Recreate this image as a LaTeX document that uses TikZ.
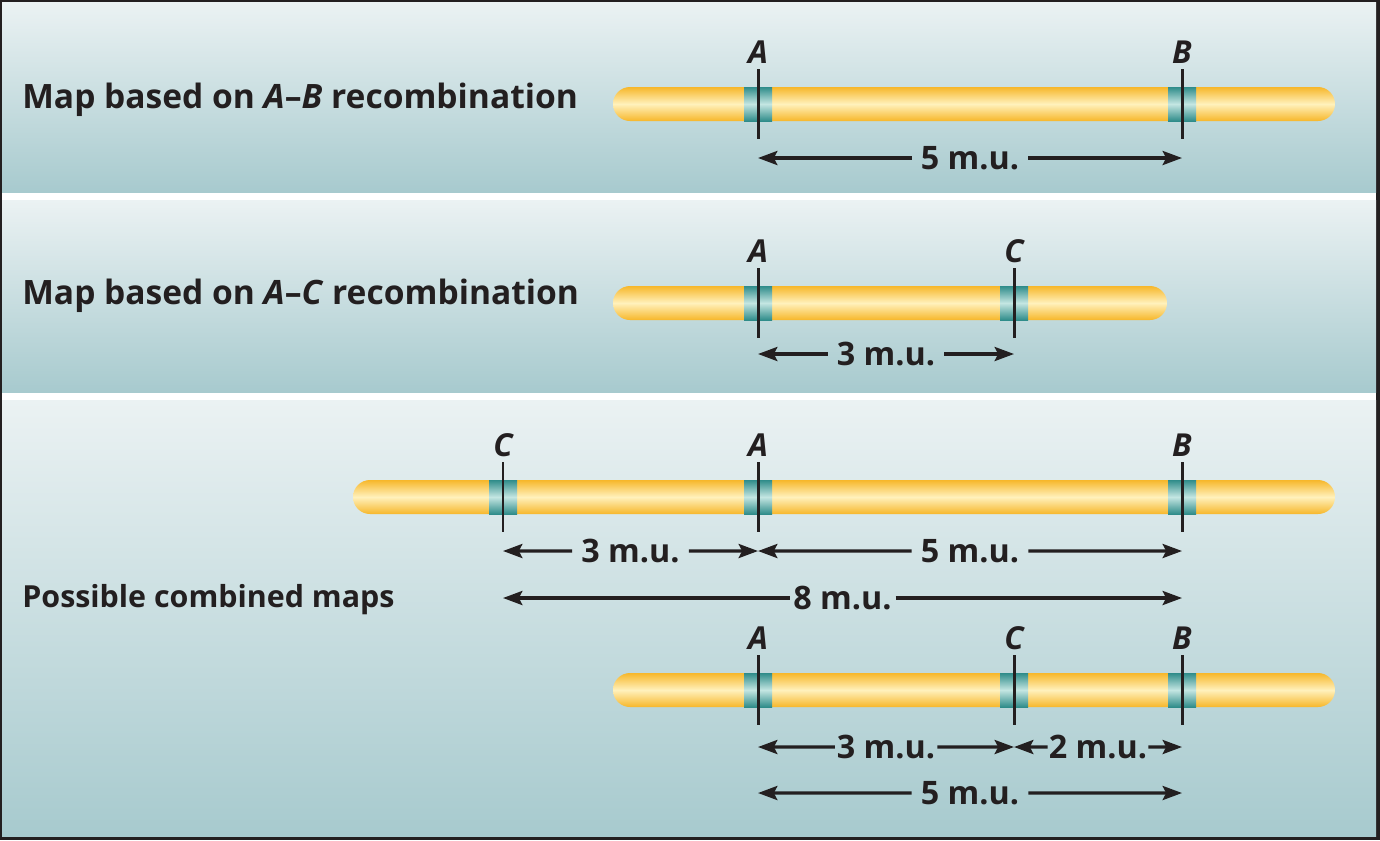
\documentclass[tikz,border=0pt]{standalone}
\usepackage{fontspec}
\setmainfont{Open Sans}
\usetikzlibrary{arrows.meta, calc}
\definecolor{ink}{HTML}{231F20}
\definecolor{panelTop}{HTML}{EBF2F3}
\definecolor{panelBot}{HTML}{A7CACE}
\definecolor{chromEdge}{HTML}{F7B72A}
\definecolor{chromMid}{HTML}{FFF1BC}
\definecolor{bandEdge}{HTML}{2F8C8A}
\definecolor{bandMid}{HTML}{C4E6E2}
\tikzstyle{panel} = [top color=panelTop, bottom color=panelBot]
\tikzstyle{chrom} = [rounded corners=0.34cm, top color=chromEdge, bottom color=chromEdge, middle color=chromMid]
\tikzstyle{band} = [top color=bandEdge, bottom color=bandEdge, middle color=bandMid]
\tikzstyle{tick} = [draw=ink, line width=1.7pt]
\tikzstyle{title} = [text=ink, inner sep=0pt, anchor=base west, font=\fontsize{19.1}{23}\selectfont\bfseries]
\tikzstyle{locus} = [text=ink, inner sep=0pt, anchor=base, font=\fontsize{18}{21}\selectfont\bfseries\itshape]
\tikzstyle{dist} = [text=ink, inner ysep=0pt, inner xsep=5pt, font=\fontsize{18.4}{22}\selectfont\bfseries]
\tikzstyle{dim} = [draw=ink, line width=1.8pt, -{Stealth[length=11pt, width=8pt, inset=2pt]}]

\begin{document}
\begin{tikzpicture}[x=0.02cm, y=-0.02cm]
    \useasboundingbox (0,0) rectangle (1380,840);
    \fill[ink] (0,0) rectangle (1380,840);
    \fill[white] (2,2) rectangle (1376,836);
    \shade[panel] (2,2) rectangle (1376,192);
    \shade[panel] (2,200) rectangle (1376,392);
    \shade[panel] (2,400) rectangle (1376,836);

    % Map based on A-B
    \node (ttlAB) [title] at (22,108) {Map based on \textit{A}–\textit{B} recombination};
    \shade[chrom] (613,87) rectangle (1335,121);
    \foreach \x/\n in {758/A, 1182/B} {
        \shade[band] (\x-14,87) rectangle (\x+14,121);
        \draw[tick] (\x,69) -- (\x,139);
        \node (ab\n) [locus] at (\x,63) {\n};
        \coordinate (ab\n-m) at (\x,158);
    }
    \node (abDist) [dist] at ($(abA-m)!0.5!(abB-m)$) {5 m.u.};
    \draw [dim] (abDist) -- (abA-m);
    \draw [dim] (abDist) -- (abB-m);

    % Map based on A-C
    \node (ttlAC) [title] at (22,304) {Map based on \textit{A}–\textit{C} recombination};
    \shade[chrom] (613,286) rectangle (1167,320);
    \foreach \x/\n in {758/A, 1014/C} {
        \shade[band] (\x-14,286) rectangle (\x+14,320);
        \draw[tick] (\x,268) -- (\x,338);
        \node (ac\n) [locus] at (\x,262) {\n};
        \coordinate (ac\n-m) at (\x,354);
    }
    \node (acDist) [dist] at ($(acA-m)!0.5!(acC-m)$) {3 m.u.};
    \draw [dim] (acDist) -- (acA-m);
    \draw [dim] (acDist) -- (acC-m);

    % Possible combined maps
    \node (ttlComb) [title, font=\fontsize{17.3}{21}\selectfont\bfseries] at (22,607) {Possible combined maps};
    \shade[chrom] (353,480) rectangle (1335,514);
    \foreach \x/\n in {503/C, 758/A, 1182/B} {
        \shade[band] (\x-14,480) rectangle (\x+14,514);
        \draw[tick] (\x,462) -- (\x,532);
        \node (cx\n) [locus] at (\x,456) {\n};
        \coordinate (cx\n-m) at (\x,551);
        \coordinate (cx\n-l) at (\x,598);
    }
    \node (cxCA) [dist] at ($(cxC-m)!0.5!(cxA-m)$) {3 m.u.};
    \draw [dim] (cxCA) -- (cxC-m);
    \draw [dim] (cxCA) -- (cxA-m);
    \node (cxAB) [dist] at ($(cxA-m)!0.5!(cxB-m)$) {5 m.u.};
    \draw [dim] (cxAB) -- (cxA-m);
    \draw [dim] (cxAB) -- (cxB-m);
    \node (cxCB) [dist, inner xsep=2pt] at ($(cxC-l)!0.5!(cxB-l)$) {8 m.u.};
    \draw [dim] (cxCB) -- (cxC-l);
    \draw [dim] (cxCB) -- (cxB-l);

    \shade[chrom] (613,673) rectangle (1335,707);
    \foreach \x/\n in {758/A, 1014/C, 1182/B} {
        \shade[band] (\x-14,673) rectangle (\x+14,707);
        \draw[tick] (\x,655) -- (\x,725);
        \node (cy\n) [locus] at (\x,649) {\n};
        \coordinate (cy\n-m) at (\x,747);
        \coordinate (cy\n-l) at (\x,793);
    }
    \node (cyAC) [dist, inner xsep=1pt] at ($(cyA-m)!0.5!(cyC-m)$) {3 m.u.};
    \draw [dim] (cyAC) -- (cyA-m);
    \draw [dim] (cyAC) -- (cyC-m);
    \node (cyCB) [dist, inner xsep=0.5pt] at ($(cyC-m)!0.5!(cyB-m)$) {2 m.u.};
    \draw [dim] (cyCB) -- (cyC-m);
    \draw [dim] (cyCB) -- (cyB-m);
    \node (cyAB) [dist] at ($(cyA-l)!0.5!(cyB-l)$) {5 m.u.};
    \draw [dim] (cyAB) -- (cyA-l);
    \draw [dim] (cyAB) -- (cyB-l);
\end{tikzpicture}
\end{document}
